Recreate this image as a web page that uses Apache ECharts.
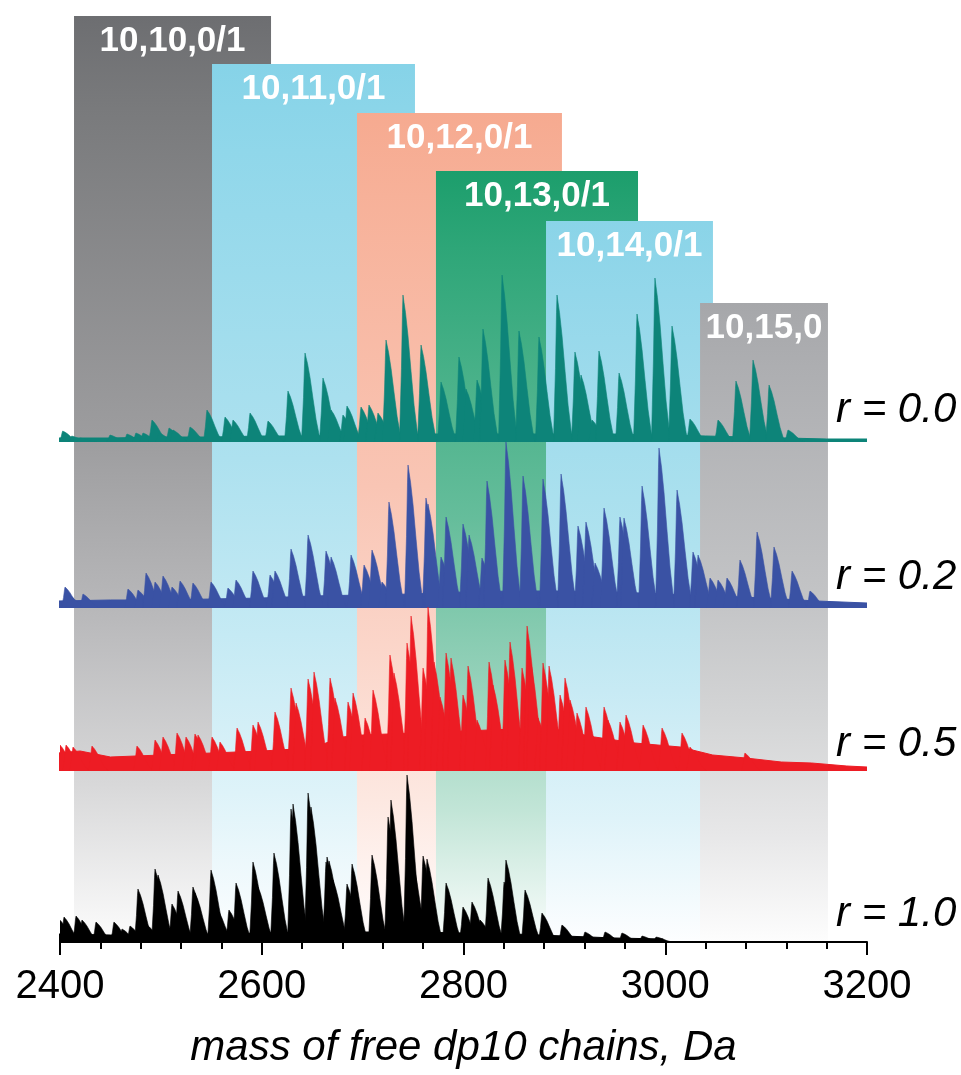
<!DOCTYPE html>
<html><head><meta charset="utf-8">
<script src="https://cdn.jsdelivr.net/npm/echarts/dist/echarts.min.js"></script>
<style>html,body{margin:0;padding:0;background:#fff}#c{width:961px;height:1075px}</style>
</head><body><div id="c"></div>
<script>
// ---------- data ----------
const massMin = 2400, massMax = 3200;
const tickLabels = [2400, 2600, 2800, 3000, 3200];
const bandLabels = ['10,10,0/1', '10,11,0/1', '10,12,0/1', '10,13,0/1', '10,14,0/1', '10,15,0'];
const bandStart = [2413.9, 2550.7, 2694.4, 2772.7, 2881.8, 3034.5];
const bandEnd   = [2609.2, 2751.9, 2897.6, 2973.0, 3047.3, 3161.3];
const traceNames = ['r = 0.0', 'r = 0.2', 'r = 0.5', 'r = 1.0'];

// peaks: [mass (Da), intensity (a.u.)]
const tealPeaks = [
 [2402.7,11],[2411.6,6],[2419.8,4],[2449.6,7],[2466.4,8],[2475.3,9],[2482.3,9],[2491.2,22],[2498.1,9],
 [2508.1,14],[2512,12],[2528.9,15],[2545.7,32],[2563.6,25],[2571.5,22],[2588.4,29],[2606.2,21],[2626,51],
 [2642.9,89],[2660.7,64],[2668.7,32],[2680.5,27],[2684.5,36],[2698.4,35],[2706.3,37],[2715.2,29],[2723.2,102],
 [2740,147],[2757.9,97],[2777.7,60],[2795.5,85],[2802.5,53],[2813.4,62],[2819.3,113],[2838.2,167],[2855,111],
 [2874.8,105],[2892.7,147],[2910.5,90],[2916.5,67],[2927.4,22],[2934.3,91],[2954.2,69],[2972,128],[2989.8,164],
 [3006.7,116],[3024.5,23],[3052.3,22],[3070.1,61],[3087,82],[3102.9,57],[3121.7,12]
];
const tealFloor = [[2398,4],[2450,4],[2500,5],[2550,5],[2600,6],[2650,6],[2700,7],[2750,8],[2800,8],[2850,8],
 [2900,8],[2950,8],[3000,7],[3040,6],[3080,5],[3120,4],[3160,3],[3200,3]];

const bluePeaks = [
 [2405,21],[2408.9,13],[2422.8,14],[2467.4,19],[2477.3,18],[2485.3,35],[2494.2,26],[2502.1,32],[2511,21],
 [2519,27],[2531.8,25],[2549.7,26],[2566.5,20],[2574.5,28],[2591.3,37],[2608.2,33],[2613.1,37],[2629,59],
 [2645.9,73],[2663.7,57],[2668.7,51],[2688.5,53],[2701.4,43],[2709.3,58],[2719.2,26],[2726.1,106],[2745,143],
 [2762.8,110],[2764.8,104],[2777.7,51],[2782.7,91],[2799.5,84],[2805.5,73],[2818.3,50],[2823.3,127],[2842.1,166],
 [2859,132],[2878.8,129],[2896.7,134],[2913.5,82],[2921.4,86],[2930.4,45],[2939.3,100],[2955.1,91],[2959.1,90],
 [2977,122],[2993.8,160],[3011.7,118],[3027.5,56],[3032.5,53],[3044.4,30],[3052.3,28],[3061.2,30],[3074.1,48],
 [3091,76],[3107.8,61],[3125.7,37],[3143.5,17]
];
const blueFloor = [[2398,7],[2450,8],[2500,8],[2550,9],[2600,10],[2650,12],[2700,13],[2750,14],[2800,16],
 [2850,17],[2900,17],[2950,16],[3000,14],[3050,12],[3100,10],[3150,7],[3200,5]];

const redPeaks = [
 [2400,26],[2406,26],[2412.9,24],[2431.7,25],[2476.3,25],[2494.2,31],[2502.1,34],[2516,38],[2524.9,34],
 [2533.8,37],[2536.8,36],[2550.7,34],[2558.6,29],[2575.5,43],[2591.3,46],[2596.3,49],[2613.1,59],[2629,83],
 [2634,68],[2645.9,92],[2651.8,99],[2667.7,93],[2672.6,73],[2685.5,69],[2690.5,78],[2702.4,53],[2710.3,81],
 [2727.1,116],[2731.1,98],[2744,128],[2748,155],[2759.9,103],[2764.8,164],[2770.8,109],[2776.7,74],[2782.7,118],
 [2787.6,113],[2799.5,76],[2804.5,105],[2813.4,51],[2825.3,109],[2829.2,86],[2841.1,111],[2846.1,129],[2858,103],
 [2863,145],[2865.9,113],[2873.9,53],[2878.8,108],[2884.8,105],[2895.7,76],[2900.6,93],[2905.6,71],[2912.5,58],
 [2921.4,64],[2939.3,64],[2943.2,51],[2955.1,49],[2961.1,56],[2978,46],[2996.8,43],[3016.6,38],[3024.5,24],
 [3079,18]
];
const redFloor = [[2398,18],[2420,20],[2450,14],[2500,16],[2550,18],[2600,20],[2650,23],[2680,34],[2700,36],
 [2750,38],[2800,40],[2850,42],[2890,42],[2930,34],[2970,28],[3015,24],[3047,16],[3080,13],[3115,9],[3145,8],
 [3180,5],[3200,4]];

const blackPeaks = [
 [2399,23],[2404,25],[2415.9,26],[2421.8,22],[2435.7,20],[2453.5,20],[2461.5,13],[2469.4,16],[2477.3,53],
 [2486.2,17],[2494.2,73],[2497.2,67],[2511,38],[2517,51],[2531.8,55],[2533.8,49],[2549.7,72],[2555.6,33],
 [2567.5,32],[2574.5,59],[2591.3,80],[2596.3,55],[2612.1,89],[2629,133],[2631,138],[2645.9,149],[2648.8,135],
 [2663.7,80],[2664.7,85],[2666.7,81],[2670.6,62],[2684.5,58],[2689.5,78],[2709.3,87],[2725.2,125],[2728.1,142],
 [2744,167],[2749,82],[2759.9,86],[2763.8,83],[2782.7,59],[2799.5,35],[2808.4,40],[2816.4,22],[2824.3,64],
 [2840.2,60],[2842.1,82],[2861,52],[2877.8,29],[2897.6,17],[2920.4,10],[2940.3,10],[2957.1,9],[2977,6],[2991,5]
];
const blackFloor = [[2398,8],[2450,7],[2500,6],[2550,8],[2600,9],[2650,10],[2700,10],[2750,10],[2800,9],
 [2850,8],[2900,6],[2950,4],[2998,3]];

// ---------- style / layout ----------
const bandColors = ['#6d6e71', '#86d3e8', '#f6aa90', '#1c9e6c', '#8ad4e8', '#a6a7aa'];
const bandTop = [16, 64, 113, 171, 221, 303];
const traceColors = ['#0d8479', '#3a52a4', '#ed1c24', '#000000'];
const baselines = [442, 608, 771, 942];
const labelY = [410, 577, 744, 914];
const GRID_H = 200, PLOT_LEFT = 60, PLOT_RIGHT = 961 - 867, H = 1075;
const FONT = '"Liberation Sans", Arial, Helvetica, sans-serif';
// peak outline (mass offset, fraction of height)
const SHAPE = [[-3.5,0],[-1.5,0.5],[-0.5,0.88],[0,1],[1,0.95],[2.5,0.88],[5,0.72],[8,0.48],[11,0.25],[14,0.08],[16,0]];
const FADE = [[0,0],[0.1,0.08],[0.45,0.32],[0.65,0.52],[0.83,0.73],[1,0.98]];

function mixWhite(hex, t) {
  const n = parseInt(hex.slice(1), 16);
  const r = (n >> 16) & 255, g = (n >> 8) & 255, b = n & 255;
  const f = c => Math.round(c + (255 - c) * t);
  return 'rgb(' + f(r) + ',' + f(g) + ',' + f(b) + ')';
}

const chart = echarts.init(document.getElementById('c'), null, {renderer: 'canvas'});

const grids = [], xAxes = [], yAxes = [], series = [];
// grid 0..3 : traces ; grid 4 : background bands
baselines.forEach((b) => {
  grids.push({left: PLOT_LEFT, right: PLOT_RIGHT, top: b - GRID_H, bottom: H - b, containLabel: false});
});
grids.push({left: PLOT_LEFT, right: PLOT_RIGHT, top: 0, bottom: H - baselines[3]});

for (let i = 0; i < 5; i++) {
  const isAxis = i === 3;
  xAxes.push({
    type: 'value', gridIndex: i, min: massMin, max: massMax, interval: 200,
    show: isAxis, z: 20,
    axisLine: {show: isAxis, onZero: false, lineStyle: {color: '#000', width: 2}},
    axisTick: {show: isAxis, length: 13, lineStyle: {color: '#000', width: 2}},
    minorTick: {show: isAxis, splitNumber: 5, length: 7, lineStyle: {color: '#000', width: 2}},
    splitLine: {show: false}, minorSplitLine: {show: false},
    axisLabel: {show: isAxis, fontSize: 40, color: '#000', fontFamily: FONT, margin: 25,
      formatter: v => tickLabels.indexOf(v) >= 0 ? String(v) : ''},
    name: isAxis ? 'mass of free dp10 chains, Da' : '',
    nameLocation: 'middle', nameGap: 85,
    nameTextStyle: {fontSize: 42, fontStyle: 'italic', color: '#000', fontFamily: FONT}
  });
  yAxes.push({type: 'value', gridIndex: i, min: 0, max: i === 4 ? 1 : GRID_H, show: false});
}

// background bands
series.push({
  type: 'custom', xAxisIndex: 4, yAxisIndex: 4, silent: true, animation: false, z: 1,
  data: bandLabels.map((l, i) => [bandStart[i], bandEnd[i], i]),
  encode: {x: [0, 1]},
  renderItem: (params, api) => {
    const idx = api.value(2);
    const p1 = api.coord([api.value(0), 0]);
    const p2 = api.coord([api.value(1), 0]);
    const top = bandTop[idx], bottom = p1[1];
    const col = bandColors[idx];
    const grad = new echarts.graphic.LinearGradient(0, 0, 0, 1,
      FADE.map(([o, t]) => ({offset: o, color: mixWhite(col, t)})));
    return {type: 'group', children: [
      {type: 'rect', shape: {x: p1[0], y: top, width: p2[0] - p1[0], height: bottom - top}, style: {fill: grad}},
      {type: 'text', style: {text: bandLabels[idx], x: (p1[0] + p2[0]) / 2, y: top + 25,
        align: 'center', verticalAlign: 'middle', textAlign: 'center', textVerticalAlign: 'middle',
        fill: '#ffffff', font: 'bold 35px ' + FONT}}
    ]};
  }
});

const peakSets = [tealPeaks, bluePeaks, redPeaks, blackPeaks];
const floorSets = [tealFloor, blueFloor, redFloor, blackFloor];
peakSets.forEach((peaks, i) => {
  const col = traceColors[i];
  series.push({
    type: 'line', xAxisIndex: i, yAxisIndex: i, data: floorSets[i], symbol: 'none', silent: true,
    animation: false, z: 2, lineStyle: {width: 1, color: col}, areaStyle: {color: col, opacity: 1}
  });
  series.push({
    type: 'custom', xAxisIndex: i, yAxisIndex: i, data: peaks, encode: {x: 0, y: 1}, silent: true,
    animation: false, z: 3, clip: true,
    renderItem: (params, api) => {
      const m = api.value(0), h = api.value(1);
      const pts = SHAPE.map(([dx, f]) => api.coord([m + dx, h * f]));
      return {type: 'polygon', shape: {points: pts}, style: {fill: col, stroke: col, lineWidth: 0.6}};
    }
  });
});

const graphics = traceNames.map((t, i) => ({
  type: 'text', x: 836, y: labelY[i], z: 10,
  style: {text: t, font: 'italic 42px ' + FONT, fill: '#000', textVerticalAlign: 'middle', verticalAlign: 'middle'}
}));

chart.setOption({
  animation: false,
  grid: grids, xAxis: xAxes, yAxis: yAxes, series: series, graphic: graphics
});
</script>
</body></html>
